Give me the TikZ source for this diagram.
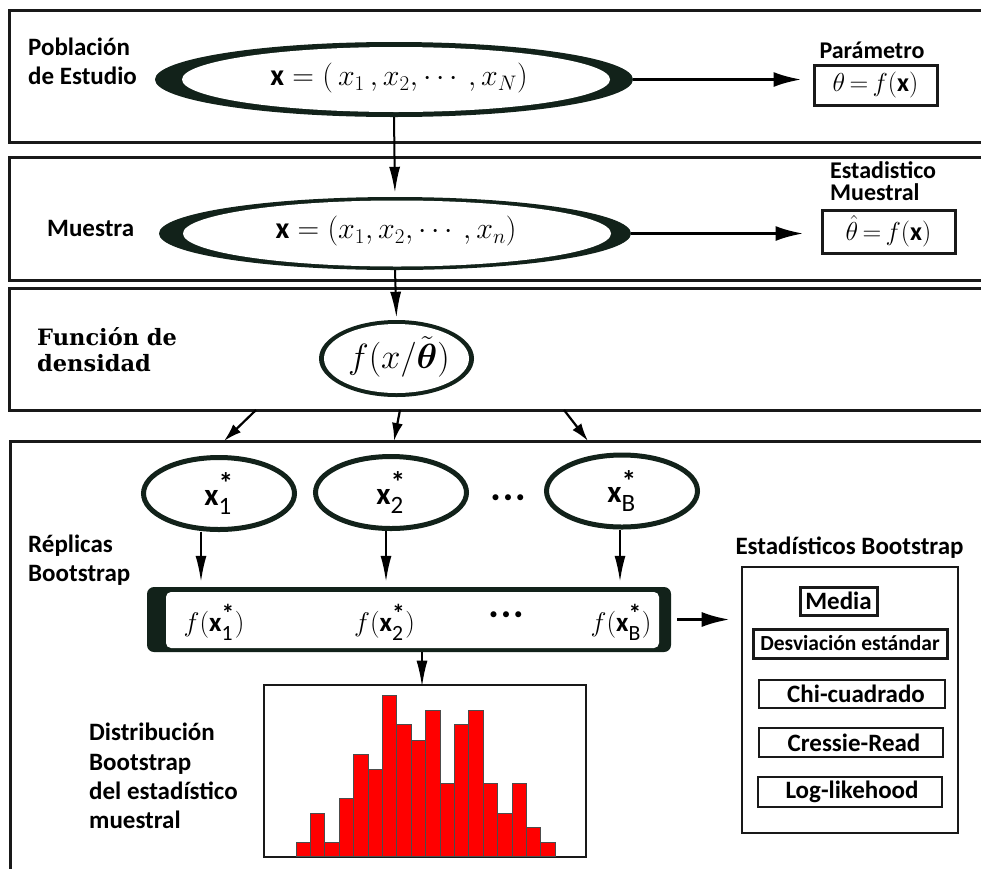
\RequirePackage{fix-cm}
\documentclass[tikz,border=0pt]{standalone}
\usepackage{fontspec}
\usepackage{amsmath}
\setmainfont{Carlito}
\newfontfamily\serifbf{DejaVu Serif}
\usetikzlibrary{shapes.geometric,arrows.meta,calc}
\definecolor{ringc}{RGB}{18,34,26}
\definecolor{linec}{RGB}{25,25,25}
\definecolor{barred}{RGB}{255,0,0}
\newcommand{\bx}{\mbox{\bfseries x}}
\newcommand{\xs}[1]{$\bx^{\text{\bfseries\scalebox{1.35}{*}}}_{\text{\scalebox{1.15}{#1}}}$}
\newcommand{\threedots}{\textbullet\hspace{4pt}\textbullet\hspace{4pt}\textbullet}
\tikzset{
  panel/.style={draw=linec, line width=3pt},
  ring/.style={ellipse, fill=ringc, inner sep=0pt},
  hole/.style={ellipse, fill=white, inner sep=0pt},
  xcirc/.style={ellipse, draw=ringc, line width=5pt, fill=white, inner sep=0pt,
                minimum width=151pt, minimum height=72pt, font=\fontsize{31}{33}\selectfont},
  lbl/.style={font=\fontsize{25}{29}\selectfont\bfseries, align=left, anchor=west, inner sep=0pt},
  mtxt/.style={inner sep=0pt, font=\fontsize{30}{32}\selectfont},
  ftxt/.style={inner sep=0pt, font=\fontsize{27}{29}\selectfont},
  resbox/.style={draw=linec, line width=3pt, inner sep=0pt, font=\fontsize{26}{28}\selectfont},
  itembox/.style={draw=linec, line width=2.6pt, inner sep=0pt, font=\fontsize{25}{27}\selectfont\bfseries},
  dots/.style={inner sep=0pt, font=\fontsize{17}{19}\selectfont},
  harr/.style={line width=3pt, draw=black, -{Latex[length=28pt,width=15pt]}},
  varr/.style={line width=2pt, draw=black, -{Latex[length=26pt,width=11pt]}},
  sarr/.style={line width=2.2pt, draw=black, -{Latex[length=18pt,width=11pt]}},
  bar/.style={fill=barred, draw=black!70, line width=0.8pt}
}
\begin{document}
\begin{tikzpicture}[x=1pt,y=-1pt]
\useasboundingbox (0,0) rectangle (981,868);
\clip (0,0) rectangle (981,868);
\fill[white] (0,0) rectangle (981,868);

% panels
\draw[panel] (9,10) rectangle (995,142);
\draw[panel] (9,157) rectangle (995,280);
\draw[panel] (9,288) rectangle (995,410);
\draw[panel] (10,441) rectangle (995,890);

% ---------- Poblacion
\node[lbl] (lpob) at (28,61.5) {Población\\de Estudio};
\node[ring, minimum width=478pt, minimum height=75pt] (e1) at (394,79.5) {};
\node[hole, minimum width=428pt, minimum height=65pt] (e1i) at (396,79.5) {};
\node[mtxt] (e1t) at (399,78) {$\bx = (\,x_1\,, x_2, \cdots, x_N)$};
\node[resbox, minimum width=123pt, minimum height=40pt] (pbox) at (875.5,85) {$\theta\,{=}\,f(\bx)$};
\node[font=\fontsize{24}{26}\selectfont\bfseries, inner sep=0pt] (lpar) at (872,50) {Parámetro};
\draw[harr, shorten >=11pt] (e1.east) -- (pbox.west |- e1.east);

% ---------- Muestra
\node[lbl] (lmue) at (47,228) {Muestra};
\node[ring, minimum width=472pt, minimum height=73pt] (e2) at (395,233.5) {};
\node[hole, minimum width=428pt, minimum height=66pt] (e2i) at (397,233.5) {};
\node[mtxt] (e2t) at (396,231) {$\bx = (x_1, x_2, \cdots, x_n)$};
\node[resbox, minimum width=133pt, minimum height=43pt] (sbox0) at (888.5,231.5) {$\hat{\theta}\,{=}\,f(\bx)$};
\node[lbl, font=\fontsize{24}{22}\selectfont\bfseries] (lest) at (830,181) {Estadistico\\Muestral};
\draw[harr, shorten >=17pt] (e2.east) -- (sbox0.west |- e2.east);
\draw[varr, shorten >=4pt] (e1.south) -- (e2.north);

% ---------- Funcion de densidad
\node[lbl, font=\fontsize{22.5}{26}\selectfont\serifbf\bfseries] (lfun) at (37,350) {Función de\\densidad};
\node[ring, minimum width=155pt, minimum height=77pt] (cf) at (396.5,358.5) {};
\node[hole, minimum width=145pt, minimum height=69pt] (cfi) at (396.5,358.5) {};
\node[mtxt, font=\fontsize{35}{37}\selectfont] (cft) at (399,357) {$f(x/\tilde{\boldsymbol{\theta}})$};
\draw[varr, shorten >=2pt] (e2.south) -- (cf.north);

% arrows between panel 3 and 4
\coordinate (s1) at (256,410); \coordinate (t1) at (224,441);
\coordinate (s2) at (400,410); \coordinate (t2) at (394,441);
\coordinate (s3) at (564,410); \coordinate (t3) at (588,441);
\draw[sarr] (s1) -- (t1);
\draw[sarr] (s2) -- (t2);
\draw[sarr] (s3) -- (t3);

% ---------- Replicas
\node[xcirc] (c1) at (219,493.5) {\xs{1}};
\node[xcirc] (c2) at (391,492.5) {\xs{2}};
\node[xcirc] (c3) at (622,491) {\xs{B}};
\node[dots] (d1) at (508,499) {\threedots};
\node[lbl] (lrep) at (28,560) {Réplicas\\Bootstrap};

\node[fill=ringc, rounded corners=7pt, minimum width=524pt, minimum height=65pt, inner sep=0pt] (strip) at (409,619.5) {};
\node[fill=white, rounded corners=5pt, minimum width=493pt, minimum height=56pt, inner sep=0pt] (stripi) at (412.5,620) {};
\node[ftxt] (f1) at (214,622) {$f($\xs{1}$)$};
\node[ftxt] (f2) at (384.5,622) {$f($\xs{2}$)$};
\node[dots] (d2) at (506,616) {\threedots};
\node[ftxt] (fB) at (621,622) {$f($\xs{B}$)$};

\coordinate (k1) at (201,0);
\coordinate (k2) at (386,0);
\coordinate (k3) at (620,0);
\draw[varr, shorten >=5pt] (c1.south -| k1) -- (strip.north -| k1);
\draw[varr, shorten >=5pt] (c2.south -| k2) -- (strip.north -| k2);
\draw[varr, shorten >=5pt] (c3.south -| k3) -- (strip.north -| k3);

% ---------- Estadisticos Bootstrap
\node[font=\fontsize{25}{27}\selectfont\bfseries, inner sep=0pt] (lsb) at (849.5,548) {Estadísticos Bootstrap};
\node[draw=linec, line width=2.6pt, minimum width=216pt, minimum height=266pt, inner sep=0pt] (sbox) at (850,700) {};
\node[itembox, line width=3pt, minimum width=77pt, minimum height=28pt] (m1) at (838.5,601) {Media};
\node[itembox, line width=3pt, minimum width=194pt, minimum height=29pt, font=\fontsize{21.5}{23}\selectfont\bfseries] (m2) at (850,643.5) {Desviación estándar};
\node[itembox, minimum width=186pt, minimum height=28pt] (m3) at (852,694) {\hspace{8pt}Chi-cuadrado};
\node[itembox, minimum width=184pt, minimum height=29pt] (m4) at (851,742.5) {\hspace{6pt}Cressie-Read};
\node[itembox, minimum width=184pt, minimum height=30pt] (m5) at (850,792) {\hspace{4pt}Log-likehood};
\draw[harr, shorten >=11pt, shorten <=6pt] (strip.east) -- (sbox.west |- strip.east);

% ---------- Histogram
\node[draw=linec, line width=2.6pt, minimum width=322pt, minimum height=172pt, inner sep=0pt] (hist) at (425,771) {};
\foreach \t [count=\i] in {842.7,813.3,842.7,798.3,754,769.3,695,724.3,740,710,783.3,724.3,710,783.3,813.3,783.3,827.7,842.7}
  \draw[bar] ({296+(\i-1)*14.4},856) rectangle ++(14.4,{\t-856});
\coordinate (hx) at (422,0);
\draw[varr, shorten >=-3pt] (strip.south -| hx) -- (hist.north -| hx);
\node[lbl, font=\fontsize{25}{29.3}\selectfont\bfseries] (ldist) at (89,776) {Distribución\\Bootstrap\\del estadístico\\muestral};

\end{tikzpicture}
\end{document}
